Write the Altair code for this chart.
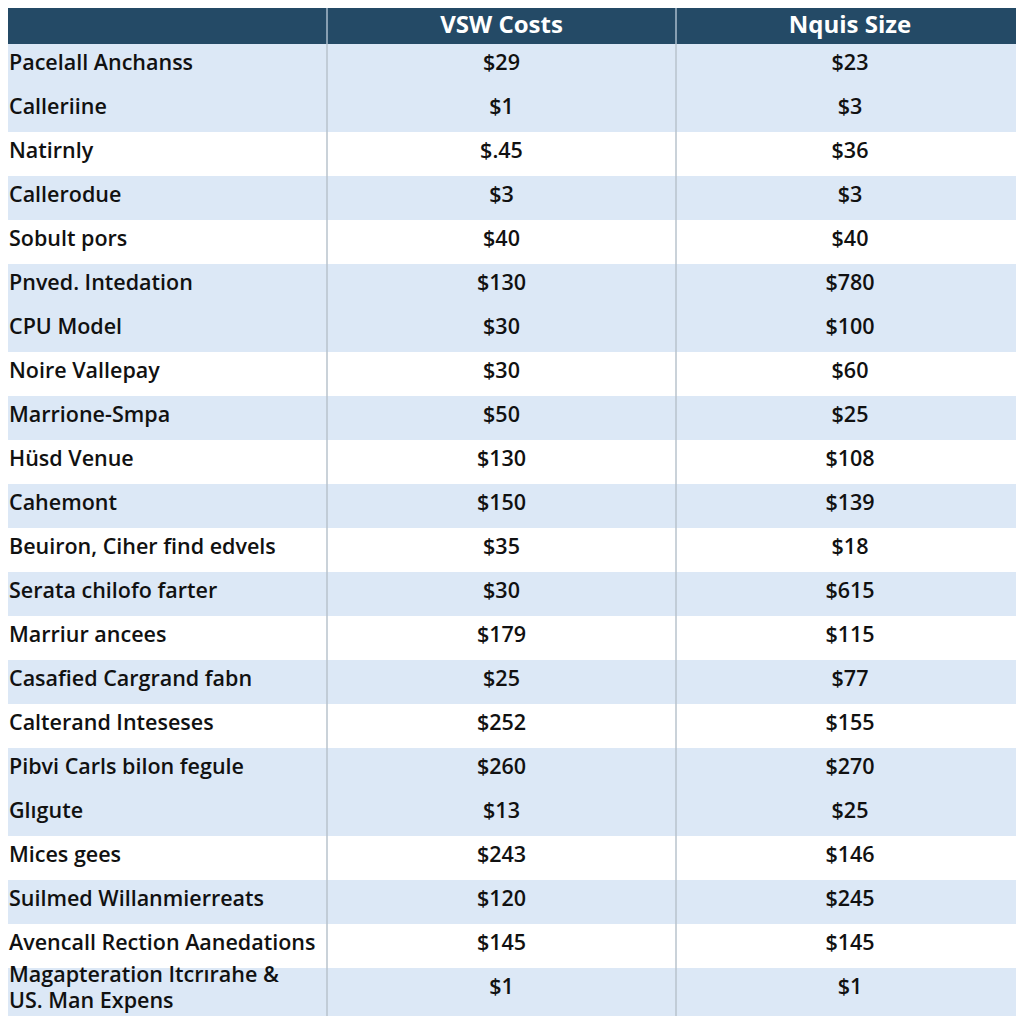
import altair as alt
import pandas as pd

# ---- table content ----
headers = ["", "VSW Costs", "Nquis Size"]
labels = [
    "Pacelall Anchanss",
    "Calleriine",
    "Natirnly",
    "Callerodue",
    "Sobult pors",
    "Pnved. Intedation",
    "CPU Model",
    "Noire Vallepay",
    "Marrione-Smpa",
    "Hüsd Venue",
    "Cahemont",
    "Beuiron, Ciher find edvels",
    "Serata chilofo farter",
    "Marriur ancees",
    "Casafied Cargrand fabn",
    "Calterand Inteseses",
    "Pibvi Carls bilon fegule",
    "Glıgute",
    "Mices gees",
    "Suilmed Willanmierreats",
    "Avencall Rection Aanedations",
    "Magapteration Itcrırahe &\nUS. Man Expens",
]
vsw_costs = ["$29", "$1", "$.45", "$3", "$40", "$130", "$30", "$30", "$50", "$130", "$150",
             "$35", "$30", "$179", "$25", "$252", "$260", "$13", "$243", "$120", "$145", "$1"]
nquis_size = ["$23", "$3", "$36", "$3", "$40", "$780", "$100", "$60", "$25", "$108", "$139",
              "$18", "$615", "$115", "$77", "$155", "$270", "$25", "$146", "$245", "$145", "$1"]
shaded = [1, 1, 0, 1, 0, 1, 1, 0, 1, 0, 1, 0, 1, 0, 1, 0, 1, 1, 0, 1, 0, 1]

# ---- layout (the page margin hides the outer 8px of the full 1024px table) ----
W = H = 1008
ROW_PX = 44.0
FULL = 1024.0
MARGIN = 8.0
col_edges = [0.0, 327 / FULL, 676 / FULL, 1.0]
col_centers = [(col_edges[i] + col_edges[i + 1]) / 2 for i in range(3)]

FONT = "Open Sans"
HEADER_BG = "#244a66"
BAND = "#dce8f6"
LINE = "#b9c3cd"
INK = "#111111"

rows = pd.DataFrame({
    "row": list(range(1, len(labels) + 1)),
    "label": labels,
    "vsw": vsw_costs,
    "nquis": nquis_size,
    "shaded": shaded,
})
rows["lines"] = rows["label"].str.count("\n") + 1
rows["row_end"] = rows["row"] + rows["lines"]
rows["mid"] = rows["row"] + 0.5
# multi-line cells start a little higher so the second line stays inside the page
rows["text_y"] = rows["mid"] - (rows["lines"] - 1) * 0.28
rows["x_label"] = col_edges[0]
rows["x_vsw"] = col_centers[1]
rows["x_nquis"] = col_centers[2]

head = pd.DataFrame({"name": headers[1:], "x": col_centers[1:], "y": [0.5, 0.5]})
seps = pd.DataFrame({"x": col_edges[1:3]})

xs = alt.Scale(domain=[MARGIN / FULL, (FULL - MARGIN) / FULL], nice=False, zero=False)
ys = alt.Scale(domain=[MARGIN / ROW_PX, (FULL - MARGIN) / ROW_PX], reverse=True, nice=False, zero=False)

base = alt.Chart(rows)

bands = base.transform_filter("datum.shaded == 1").mark_rect(color=BAND, clip=True).encode(
    x=alt.X(datum=0, scale=xs, axis=None),
    x2=alt.X2(datum=1),
    y=alt.Y("row:Q", scale=ys, axis=None),
    y2="row_end:Q",
)

rules = alt.Chart(seps).mark_rule(color=LINE, strokeWidth=1.5).encode(
    x=alt.X("x:Q", scale=xs, axis=None),
)

header_rect = alt.Chart(head).mark_rect(color=HEADER_BG, clip=True).encode(
    x=alt.X(datum=0, scale=xs, axis=None),
    x2=alt.X2(datum=1),
    y=alt.Y(datum=0, scale=ys, axis=None),
    y2=alt.Y2(datum=1),
)
header_rules = alt.Chart(seps).mark_rule(color="#a9bccd", strokeWidth=1.5, clip=True).encode(
    x=alt.X("x:Q", scale=xs, axis=None),
    y=alt.Y(datum=0, scale=ys, axis=None),
    y2=alt.Y2(datum=1),
)
header_text = alt.Chart(head).mark_text(
    font=FONT, fontSize=24, fontWeight="bold", color="white", baseline="alphabetic", dy=11
).encode(
    x=alt.X("x:Q", scale=xs, axis=None),
    y=alt.Y("y:Q", scale=ys, axis=None),
    text="name:N",
)

label_text = base.mark_text(
    font=FONT, fontSize=21.5, fontWeight=600, color=INK, align="left", baseline="alphabetic",
    dx=9, dy=4, lineBreak="\n", lineHeight=26,
).encode(
    x=alt.X("x_label:Q", scale=xs, axis=None),
    y=alt.Y("text_y:Q", scale=ys, axis=None),
    text="label:N",
)
vsw_text = base.mark_text(
    font=FONT, fontSize=21.5, fontWeight=600, color=INK, align="center", baseline="alphabetic", dy=4,
).encode(
    x=alt.X("x_vsw:Q", scale=xs, axis=None),
    y=alt.Y("mid:Q", scale=ys, axis=None),
    text="vsw:N",
)
nquis_text = base.mark_text(
    font=FONT, fontSize=21.5, fontWeight=600, color=INK, align="center", baseline="alphabetic", dy=4,
).encode(
    x=alt.X("x_nquis:Q", scale=xs, axis=None),
    y=alt.Y("mid:Q", scale=ys, axis=None),
    text="nquis:N",
)

chart = alt.layer(
    bands, rules, header_rect, header_rules, header_text,
    label_text, vsw_text, nquis_text,
).properties(
    width=W, height=H, background="white", padding=0,
    autosize=alt.AutoSizeParams(type="none"),
).configure_view(stroke=None)

chart.save("out.html", embed_options={"renderer": "svg", "actions": False})
